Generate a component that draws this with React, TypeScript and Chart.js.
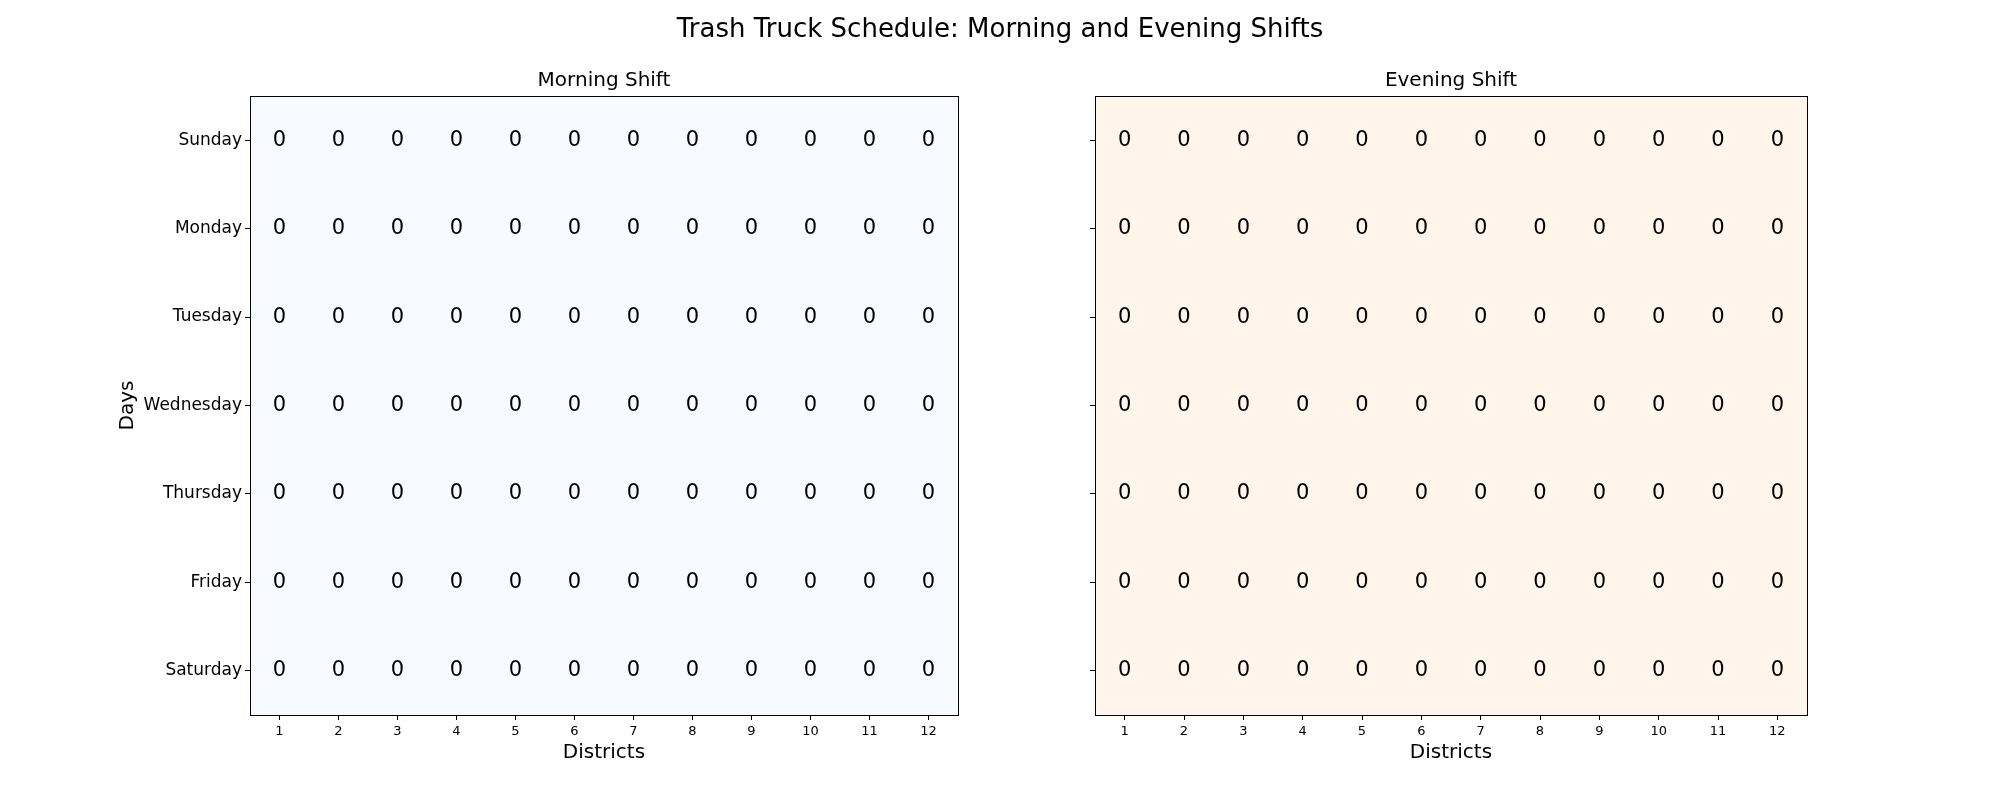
import React, { useEffect, useRef } from "react";
import { Chart, registerables } from "chart.js";
Chart.register(...registerables);

const days = ["Sunday", "Monday", "Tuesday", "Wednesday", "Thursday", "Friday", "Saturday"];
const districts = [1, 2, 3, 4, 5, 6, 7, 8, 9, 10, 11, 12];
const morning = days.map(() => districts.map(() => 0));
const evening = days.map(() => districts.map(() => 0));

const FONT = "'DejaVu Sans', sans-serif";

function makeConfig(title: string, values: number[][], bg: string, left: boolean) {
  const pts: { x: number; y: number; v: number }[] = [];
  values.forEach((row, r) => row.forEach((v, c) => pts.push({ x: districts[c], y: r, v })));
  const cellPlugin = {
    id: "cells",
    beforeDatasetsDraw(chart: any) {
      const { ctx, chartArea: a } = chart;
      ctx.save();
      ctx.fillStyle = bg;
      ctx.fillRect(a.left, a.top, a.right - a.left, a.bottom - a.top);
      ctx.restore();
    },
    afterDatasetsDraw(chart: any) {
      const { ctx, chartArea: a, scales } = chart;
      ctx.save();
      ctx.fillStyle = "#000";
      ctx.font = `21px ${FONT}`;
      ctx.textAlign = "center";
      ctx.textBaseline = "middle";
      pts.forEach((p) => {
        ctx.fillText(String(p.v), scales.x.getPixelForValue(p.x), scales.y.getPixelForValue(p.y));
      });
      const cx = (a.left + a.right) / 2;
      ctx.font = `20px ${FONT}`;
      ctx.fillText(title, cx, 81);
      ctx.fillText("Districts", cx, 753);
      if (left) {
        ctx.save();
        ctx.translate(128, (a.top + a.bottom) / 2);
        ctx.rotate(-Math.PI / 2);
        ctx.fillText("Days", 0, 0);
        ctx.restore();
      }
      ctx.strokeStyle = "#000";
      ctx.lineWidth = 1;
      ctx.strokeRect(Math.round(a.left) + 0.5, Math.round(a.top) + 0.5, Math.round(a.right - a.left), Math.round(a.bottom - a.top));
      ctx.restore();
    },
  };
  return {
    type: "scatter",
    data: { datasets: [{ data: pts, pointRadius: 0, pointHoverRadius: 0 }] },
    plugins: [cellPlugin],
    options: {
      animation: false,
      responsive: false,
      events: [],
      layout: { padding: { top: 96, bottom: 0, left: 0, right: left ? 42 : 193 } },
      plugins: {
        legend: { display: false },
        tooltip: { enabled: false },
        title: { display: false },
      },
      scales: {
        x: {
          type: "linear",
          min: 0.5,
          max: 12.5,
          afterBuildTicks: (s: any) => { s.ticks = districts.map((v) => ({ value: v })); },
          afterFit: (s: any) => { s.height = 85; },
          ticks: { color: "#000", font: { family: FONT, size: 13 }, padding: 4, maxRotation: 0, autoSkip: false },
          grid: { drawOnChartArea: false, color: "#000", tickLength: 5 },
          border: { color: "#000" },
        },
        y: {
          type: "linear",
          min: -0.5,
          max: 6.5,
          reverse: true,
          afterBuildTicks: (s: any) => { s.ticks = days.map((_, i) => ({ value: i })); },
          afterFit: (s: any) => { s.width = left ? 250 : 95; },
          ticks: { color: "#000", font: { family: FONT, size: 17 }, padding: 3, autoSkip: false, callback: (v: any) => (left ? days[v] : "") },
          grid: { drawOnChartArea: false, color: "#000", tickLength: 5 },
          border: { color: "#000" },
        },
      },
    },
  } as any;
}

function Panel({ title, values, bg, left }: { title: string; values: number[][]; bg: string; left: boolean }) {
  const ref = useRef<HTMLCanvasElement>(null);
  useEffect(() => {
    const c = new Chart(ref.current!, makeConfig(title, values, bg, left));
    return () => c.destroy();
  }, []);
  return (
    <canvas ref={ref} width={1000} height={800}
      style={{ position: "absolute", top: 0, left: left ? 0 : 1000, width: 1000, height: 800 }} />
  );
}

export default function App() {
  return (
    <div style={{ position: "fixed", left: 0, top: 0, width: 2000, height: 800, background: "#fff" }}>
      <Panel title="Morning Shift" values={morning} bg="#f7fbff" left={true} />
      <Panel title="Evening Shift" values={evening} bg="#fff5eb" left={false} />
      <div style={{ position: "absolute", top: 12, left: 0, width: 2000, textAlign: "center", fontFamily: FONT, fontSize: 26, color: "#000", lineHeight: "32px" }}>
        Trash Truck Schedule: Morning and Evening Shifts
      </div>
    </div>
  );
}
